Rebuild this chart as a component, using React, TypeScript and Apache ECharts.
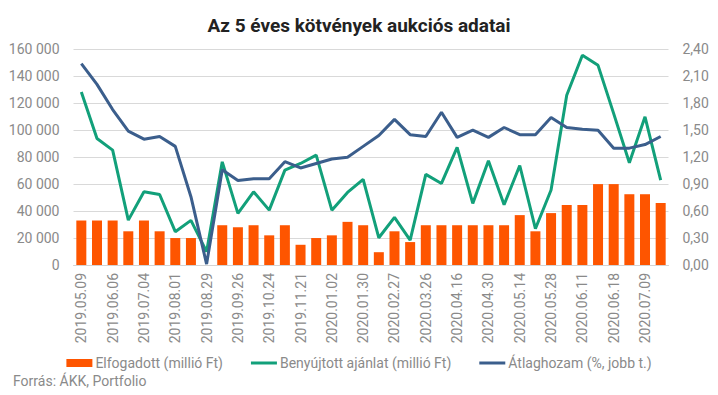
import React, { useEffect, useRef } from "react";
import * as echarts from "echarts";

const categories = [
  "2019.05.09", "2019.05.23", "2019.06.06", "2019.06.20", "2019.07.04", "2019.07.18",
  "2019.08.01", "2019.08.15", "2019.08.29", "2019.09.12", "2019.09.26", "2019.10.10",
  "2019.10.24", "2019.11.07", "2019.11.21", "2019.12.05", "2020.01.02", "2020.01.16",
  "2020.01.30", "2020.02.13", "2020.02.27", "2020.03.12", "2020.03.26", "2020.04.09",
  "2020.04.16", "2020.04.23", "2020.04.30", "2020.05.07", "2020.05.14", "2020.05.21",
  "2020.05.28", "2020.06.04", "2020.06.11", "2020.06.16", "2020.06.18", "2020.06.25",
  "2020.07.09", "2020.07.16",
];

const accepted = [
  33000, 33000, 33000, 25000, 33000, 25000, 20000, 20000, 0, 29500, 28000, 29500,
  22000, 29500, 15000, 20000, 22000, 32000, 29500, 9500, 25000, 17000, 29500, 29500,
  29500, 29500, 29500, 29500, 37000, 25000, 38500, 44500, 44500, 60000, 60000, 52500,
  52500, 46000,
];

const submitted = [
  128400, 93800, 85200, 33300, 54300, 52300, 24700, 33100, 9900, 76500, 38300, 54300,
  40700, 70400, 75300, 81500, 40700, 53800, 63500, 20200, 35300, 18500, 67200, 60500,
  87200, 45700, 77300, 44700, 73800, 26900, 55600, 125900, 155600, 148100, 112300, 75800,
  109900, 63000,
];

const avgYield = [
  2.24, 2.01, 1.73, 1.49, 1.4, 1.43, 1.32, 0.76, 0.01, 1.06, 0.94, 0.96, 0.96, 1.15,
  1.08, 1.13, 1.18, 1.2, 1.32, 1.44, 1.62, 1.45, 1.43, 1.7, 1.42, 1.5, 1.42, 1.53, 1.45,
  1.45, 1.64, 1.53, 1.51, 1.5, 1.3, 1.3, 1.34, 1.43,
];

const seriesNames = [
  "Elfogadott (millió Ft)",
  "Benyújtott ajánlat (millió Ft)",
  "Átlaghozam (%, jobb t.)",
];

const titleText = "Az 5 éves kötvények aukciós adatai";
const sourceText = "Forrás: ÁKK, Portfolio";

const FONT = "Roboto, 'Noto Sans', sans-serif";
const GRAY = "#8a8a8a";
const ORANGE = "#fe5500";
const GREEN = "#12a07a";
const BLUE = "#3b5e8c";

const LINE_ICON = "path://M0,0 M26,8 M0,2.5 L26,2.5 L26,5.5 L0,5.5 Z";

export default function App() {
  const ref = useRef<HTMLDivElement>(null);

  useEffect(() => {
    if (!ref.current) return;
    const chart = echarts.init(ref.current, undefined, { renderer: "svg" });
    chart.setOption({
      animation: false,
      backgroundColor: "#ffffff",
      textStyle: { fontFamily: FONT },
      title: {
        text: titleText,
        left: "center",
        top: 11,
        textStyle: { fontFamily: FONT, fontSize: 19, fontWeight: "bold", color: "#222222" },
      },
      grid: { left: 73.5, right: 49.5, top: 49.3, bottom: 130 },
      legend: {
        data: [
          { name: seriesNames[0], icon: "rect" },
          { name: seriesNames[1], icon: LINE_ICON },
          { name: seriesNames[2], icon: LINE_ICON },
        ],
        left: "center",
        top: 351,
        itemWidth: 26,
        itemHeight: 8,
        itemGap: 28,
        itemStyle: { borderWidth: 0 },
        textStyle: { fontFamily: FONT, fontSize: 14, color: GRAY, padding: [0, 0, 0, -2] },
      },
      graphic: [
        {
          type: "text",
          left: 13,
          top: 374,
          style: { text: sourceText, font: `14px ${FONT}`, fill: GRAY },
        },
      ],
      xAxis: {
        type: "category",
        data: categories,
        axisLine: { lineStyle: { color: "#d4d4d4", width: 1 } },
        axisTick: { show: false },
        axisLabel: {
          interval: 1,
          rotate: 90,
          margin: 8,
          fontSize: 14,
          color: GRAY,
          fontFamily: FONT,
        },
      },
      yAxis: [
        {
          type: "value",
          min: 0,
          max: 160000,
          interval: 20000,
          axisLine: { show: false },
          axisTick: { show: false },
          splitLine: { lineStyle: { color: "#d9d9d9", width: 1 } },
          axisLabel: {
            margin: 14,
            fontSize: 14,
            color: GRAY,
            fontFamily: FONT,
            formatter: (v: number) => String(Math.round(v)).replace(/\B(?=(\d{3})+(?!\d))/g, " "),
          },
        },
        {
          type: "value",
          min: 0,
          max: 2.4,
          interval: 0.3,
          axisLine: { show: false },
          axisTick: { show: false },
          splitLine: { show: false },
          axisLabel: {
            margin: 14,
            fontSize: 14,
            color: GRAY,
            fontFamily: FONT,
            formatter: (v: number) => v.toFixed(2).replace(".", ","),
          },
        },
      ],
      series: [
        {
          name: seriesNames[0],
          type: "bar",
          data: accepted,
          barWidth: 10,
          itemStyle: { color: ORANGE },
        },
        {
          name: seriesNames[1],
          type: "line",
          data: submitted,
          symbol: "none",
          lineStyle: { color: GREEN, width: 3 },
          itemStyle: { color: GREEN },
        },
        {
          name: seriesNames[2],
          type: "line",
          yAxisIndex: 1,
          data: avgYield,
          symbol: "none",
          lineStyle: { color: BLUE, width: 3 },
          itemStyle: { color: BLUE },
        },
      ],
    });
    return () => chart.dispose();
  }, []);

  return (
    <div
      ref={ref}
      style={{ position: "absolute", left: 0, top: 0, width: 718, height: 395 }}
    />
  );
}
